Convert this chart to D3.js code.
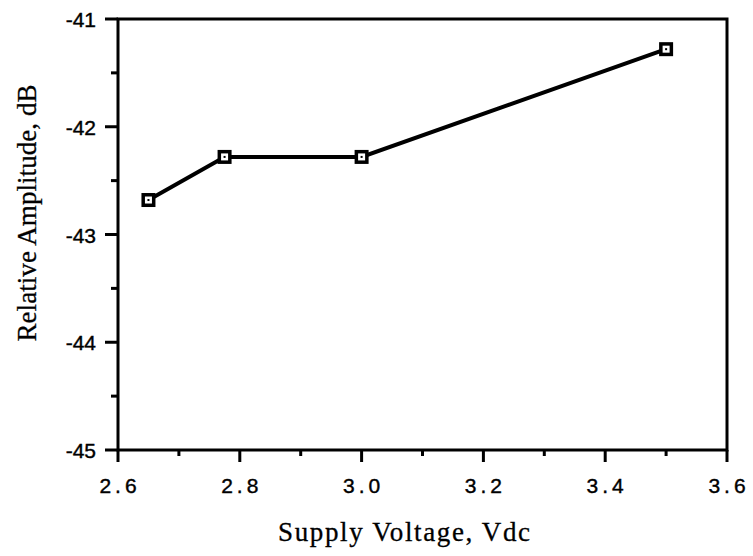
<!DOCTYPE html>
<html>
<head>
<meta charset="utf-8">
<script src="https://d3js.org/d3.v7.min.js"></script>
<style>
  body { margin: 0; background: #fff; }
  .tick-lbl { font-family: "Liberation Sans", Arial, sans-serif; font-size: 21px; fill: #000; stroke: #000; stroke-width: 0.4px; }
  .ttl { font-family: "Liberation Serif", "Times New Roman", serif; font-size: 27px; fill: #000; stroke: #000; stroke-width: 0.3px; }
</style>
</head>
<body>
<script>
// data
var voltage = [2.65, 2.775, 3.0, 3.5];
var amplitude = [-42.68, -42.28, -42.28, -41.28];
var xTicks = [2.6, 2.8, 3.0, 3.2, 3.4, 3.6];
var yTicks = [-45, -44, -43, -42, -41];

var W = 753, H = 556;
var m = {left: 118, top: 19, right: 26, bottom: 106};

var svg = d3.select("body").append("svg")
  .attr("width", W).attr("height", H);

var x = d3.scaleLinear().domain([2.6, 3.6]).range([m.left, W - m.right]);
var y = d3.scaleLinear().domain([-45, -41]).range([H - m.bottom, m.top]);

// frame
svg.append("rect")
  .attr("x", x(2.6)).attr("y", y(-41))
  .attr("width", x(3.6) - x(2.6)).attr("height", y(-45) - y(-41))
  .attr("fill", "none").attr("stroke", "#000").attr("stroke-width", 3);

// x ticks: minor every 0.1, major every 0.2
var xMinor = d3.range(26, 37).map(function(d) { return d / 10; });
svg.selectAll(".xt").data(xMinor).enter().append("line")
  .attr("x1", function(d) { return x(d); }).attr("x2", function(d) { return x(d); })
  .attr("y1", y(-45))
  .attr("y2", function(d, i) { return y(-45) + (i % 2 === 0 ? 12 : 6); })
  .attr("stroke", "#000").attr("stroke-width", 3);

svg.selectAll(".xl").data(xTicks).enter().append("text")
  .attr("class", "tick-lbl")
  .attr("x", function(d) { return x(d) + 2; })
  .attr("y", y(-45) + 43)
  .attr("text-anchor", "middle")
  .attr("letter-spacing", "4px")
  .text(function(d) { return d3.format(".1f")(d); });

// y ticks: minor every 0.5
var yMinor = d3.range(-450, -405, 5).map(function(d) { return d / 10; });
svg.selectAll(".yt").data(yMinor).enter().append("line")
  .attr("y1", function(d) { return y(d); }).attr("y2", function(d) { return y(d); })
  .attr("x1", x(2.6))
  .attr("x2", function(d, i) { return x(2.6) - (i % 2 === 0 ? 13 : 7); })
  .attr("stroke", "#000").attr("stroke-width", 3);

svg.selectAll(".yl").data(yTicks).enter().append("text")
  .attr("class", "tick-lbl")
  .attr("x", x(2.6) - 22)
  .attr("y", function(d) { return y(d) + 8; })
  .attr("text-anchor", "end")
  .text(function(d) { return d; });

// line
var pts = voltage.map(function(v, i) { return [v, amplitude[i]]; });
svg.append("path")
  .datum(pts)
  .attr("fill", "none").attr("stroke", "#000").attr("stroke-width", 4)
  .attr("d", d3.line().x(function(d) { return x(d[0]); }).y(function(d) { return y(d[1]); }));

// markers
var mk = svg.selectAll(".mk").data(pts).enter().append("g")
  .attr("transform", function(d) { return "translate(" + x(d[0]) + "," + y(d[1]) + ")"; });
mk.append("rect").attr("x", -7).attr("y", -7).attr("width", 14).attr("height", 14)
  .attr("fill", "#000");
mk.append("rect").attr("x", -3.5).attr("y", -3.5).attr("width", 7).attr("height", 7)
  .attr("fill", "#fff");
mk.append("rect").attr("x", -1).attr("y", -1).attr("width", 2).attr("height", 2)
  .attr("fill", "#000");

// axis titles
svg.append("text").attr("class", "ttl")
  .attr("x", 404).attr("y", 541)
  .attr("text-anchor", "middle")
  .attr("textLength", 252).attr("lengthAdjust", "spacing")
  .text("Supply Voltage, Vdc");

svg.append("text").attr("class", "ttl")
  .attr("transform", "translate(36,213) rotate(-90)")
  .attr("text-anchor", "middle")
  .attr("textLength", 257).attr("lengthAdjust", "spacing")
  .text("Relative Amplitude, dB");
</script>
</body>
</html>
